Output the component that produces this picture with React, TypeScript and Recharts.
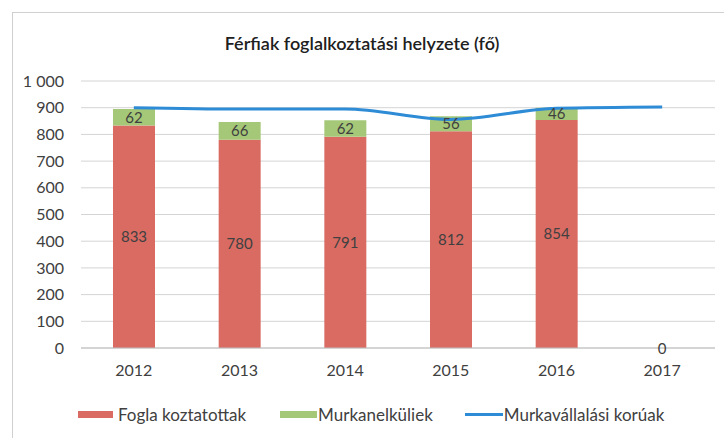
import React from 'react';
import { ComposedChart, Bar, Line, XAxis, YAxis, CartesianGrid, Legend, LabelList } from 'recharts';

const years = ['2012', '2013', '2014', '2015', '2016', '2017'];
const employed = [833, 780, 791, 812, 854, 0];
const unemployed: (number | null)[] = [62, 66, 62, 56, 46, null];
const workingAge = [900, 895, 895, 856, 898, 903];
const yTicks = [0, 100, 200, 300, 400, 500, 600, 700, 800, 900, 1000];

const seriesNames = {
  employed: 'Fogla koztatottak',
  unemployed: 'Murkanelküliek',
  workingAge: 'Murkavállalási korúak',
};

const data = years.map((y, i) => ({
  year: y,
  employed: employed[i],
  unemployed: unemployed[i],
  workingAge: workingAge[i],
}));

const FONT = 'Lato, "Open Sans", sans-serif';
const RED = '#D96B63';
const GREEN = '#A5C878';
const BLUE = '#2E8BD6';
const TEXT = '#404040';

const renderLegend = () => (
  <div style={{ display: 'flex', alignItems: 'center', fontFamily: FONT, fontSize: 17, color: TEXT, paddingLeft: 78, height: 23 }}>
    <span style={{ display: 'inline-block', width: 35, height: 7, background: RED, marginRight: 5 }} />
    <span style={{ marginRight: 34 }}>{seriesNames.employed}</span>
    <span style={{ display: 'inline-block', width: 37, height: 7, background: GREEN, marginRight: 1 }} />
    <span style={{ marginRight: 32 }}>{seriesNames.unemployed}</span>
    <span style={{ display: 'inline-block', width: 38, height: 3, background: BLUE, marginRight: 1 }} />
    <span>{seriesNames.workingAge}</span>
  </div>
);

// label only for zero-valued stacked bars (Recharts skips zero-height bar labels)
const ZeroLabel = (props: any) => {
  const { x, y, value } = props;
  if (value !== 0) return null;
  return (
    <text x={x} y={y} textAnchor="middle" dominantBaseline="central" fill={TEXT} fontSize={15} fontFamily={FONT}>
      {value}
    </text>
  );
};

export default function App() {
  return (
    <div style={{ position: 'absolute', left: 0, top: 0, width: 724, height: 438, background: '#fff', overflow: 'hidden' }}>
      <div style={{ position: 'absolute', left: 12, top: 12, width: 720, height: 440, borderLeft: '1px solid #d0d0d0', borderTop: '1px solid #d0d0d0' }} />
      <div style={{ position: 'absolute', left: 0, top: 32, width: 724, textAlign: 'center', fontFamily: FONT, fontSize: 18, fontWeight: 600, color: '#202020' }}>
        Férfiak foglalkoztatási helyzete (fő)
      </div>
      <div style={{ position: 'absolute', left: 0, top: 0 }}>
        <ComposedChart width={724} height={438} data={data} margin={{ top: 81, right: 9, bottom: 37, left: 0 }}>
          <CartesianGrid vertical={false} stroke="#d4d4d4" />
          <XAxis
            dataKey="year"
            height={30}
            tickLine={false}
            tickSize={0}
            tickMargin={17}
            axisLine={{ stroke: '#bfbfbf' }}
            tick={{ fill: TEXT, fontSize: 16, fontFamily: FONT }}
          />
          <YAxis
            width={81}
            domain={[0, 1000]}
            ticks={yTicks}
            interval={0}
            axisLine={false}
            tickLine={false}
            tickSize={0}
            tickMargin={17}
            tickFormatter={(v: number) => (v === 1000 ? '1 000' : String(v))}
            tick={{ fill: TEXT, fontSize: 16, fontFamily: FONT }}
          />
          <Legend verticalAlign="bottom" align="left" height={23} wrapperStyle={{ left: 0, bottom: 12 }} content={renderLegend} />
          <Bar dataKey="employed" name={seriesNames.employed} stackId="a" fill={RED} barSize={42} isAnimationActive={false}>
            <LabelList dataKey="employed" position="center" fill={TEXT} fontSize={15} fontFamily={FONT} />
          </Bar>
          <Bar dataKey="unemployed" name={seriesNames.unemployed} stackId="a" fill={GREEN} barSize={42} isAnimationActive={false}>
            <LabelList
              dataKey="unemployed"
              position="center"
              fill={TEXT}
              fontSize={15}
              fontFamily={FONT}
              formatter={(v: any) => (v == null ? '' : v)}
            />
          </Bar>
          <Line
            dataKey="employed"
            stroke="none"
            dot={false}
            activeDot={false}
            legendType="none"
            isAnimationActive={false}
          >
            <LabelList dataKey="employed" content={ZeroLabel} />
          </Line>
          <Line
            dataKey="workingAge"
            name={seriesNames.workingAge}
            type="monotone"
            stroke={BLUE}
            strokeWidth={3}
            dot={false}
            isAnimationActive={false}
          />
        </ComposedChart>
      </div>
    </div>
  );
}
